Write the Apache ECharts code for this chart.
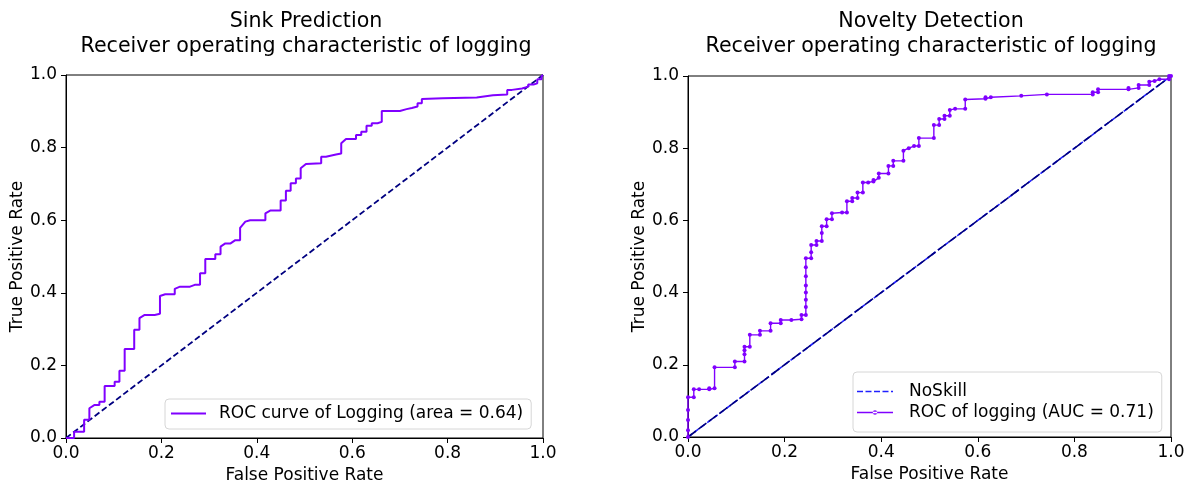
<!DOCTYPE html>
<html>
<head>
<meta charset="utf-8">
<script src="https://cdn.jsdelivr.net/npm/echarts@6/dist/echarts.min.js"></script>
<style>html,body{margin:0;padding:0;background:#fff;}#c{width:1195px;height:482px;}</style>
</head>
<body>
<div id="c"></div>
<script>
// ---- Data ----
const axisTicks = [0.0, 0.2, 0.4, 0.6, 0.8, 1.0];
const diagX = [0, 1];
const diagY = [0, 1];

const leftFpr = [0,0.017,0.017,0.038,0.038,0.049,0.049,0.060,0.070,0.070,0.081,0.081,0.102,0.102,0.112,0.112,0.123,0.123,0.143,0.143,0.154,0.154,0.165,0.186,0.197,0.197,0.208,0.228,0.228,0.239,0.260,0.270,0.281,0.281,0.292,0.292,0.313,0.313,0.324,0.324,0.334,0.345,0.355,0.365,0.365,0.376,0.386,0.418,0.418,0.429,0.450,0.450,0.461,0.461,0.471,0.471,0.482,0.482,0.492,0.492,0.503,0.535,0.535,0.545,0.566,0.577,0.577,0.587,0.608,0.608,0.619,0.619,0.630,0.630,0.641,0.641,0.653,0.653,0.662,0.662,0.700,0.714,0.725,0.725,0.737,0.737,0.746,0.746,0.790,0.861,0.861,0.895,0.925,0.925,0.935,0.935,0.956,0.956,0.969,0.969,0.980,0.980,0.988,0.988,0.997,0.997,1];
const leftTpr = [0,0,0.017,0.017,0.050,0.050,0.082,0.091,0.091,0.100,0.100,0.143,0.143,0.155,0.155,0.185,0.185,0.245,0.245,0.298,0.298,0.330,0.339,0.339,0.342,0.391,0.396,0.396,0.411,0.417,0.417,0.422,0.422,0.454,0.454,0.493,0.493,0.506,0.506,0.527,0.536,0.536,0.545,0.545,0.579,0.596,0.600,0.600,0.619,0.627,0.627,0.654,0.654,0.681,0.681,0.702,0.702,0.715,0.715,0.743,0.755,0.757,0.775,0.775,0.781,0.784,0.812,0.824,0.824,0.835,0.835,0.844,0.844,0.860,0.860,0.867,0.867,0.871,0.871,0.901,0.901,0.906,0.909,0.913,0.913,0.922,0.922,0.934,0.936,0.938,0.940,0.944,0.946,0.959,0.959,0.963,0.963,0.968,0.968,0.974,0.974,0.977,0.977,0.988,0.988,0.997,1];

const rightFpr = [0,0,0,0,0,0.012,0.012,0.023,0.044,0.044,0.055,0.055,0.097,0.097,0.117,0.117,0.117,0.117,0.128,0.128,0.149,0.149,0.171,0.171,0.192,0.192,0.214,0.235,0.235,0.244,0.244,0.244,0.244,0.244,0.244,0.244,0.244,0.255,0.255,0.255,0.266,0.266,0.277,0.277,0.277,0.287,0.287,0.298,0.298,0.319,0.329,0.329,0.340,0.340,0.351,0.351,0.362,0.362,0.373,0.384,0.384,0.395,0.395,0.415,0.415,0.425,0.425,0.446,0.446,0.457,0.468,0.478,0.478,0.509,0.509,0.520,0.520,0.531,0.531,0.542,0.542,0.553,0.574,0.574,0.616,0.616,0.627,0.690,0.743,0.838,0.838,0.849,0.849,0.912,0.912,0.933,0.933,0.955,0.955,0.966,0.976,0.996,0.996,1];
const rightTpr = [0,0.019,0.047,0.075,0.110,0.110,0.132,0.132,0.132,0.135,0.135,0.193,0.193,0.209,0.209,0.229,0.240,0.250,0.250,0.283,0.283,0.294,0.294,0.315,0.315,0.324,0.324,0.326,0.338,0.338,0.360,0.380,0.400,0.420,0.445,0.470,0.495,0.495,0.512,0.532,0.532,0.543,0.543,0.565,0.584,0.584,0.603,0.603,0.620,0.622,0.622,0.653,0.653,0.662,0.662,0.677,0.677,0.705,0.705,0.708,0.712,0.718,0.730,0.730,0.751,0.751,0.765,0.765,0.793,0.800,0.806,0.806,0.828,0.828,0.864,0.864,0.881,0.881,0.890,0.890,0.906,0.909,0.909,0.935,0.937,0.941,0.941,0.945,0.949,0.949,0.955,0.955,0.963,0.963,0.967,0.967,0.975,0.975,0.984,0.986,0.991,0.991,1.0,1];

const titles = ['Sink Prediction\nReceiver operating characteristic of logging', 'Novelty Detection\nReceiver operating characteristic of logging'];
const xName = 'False Positive Rate';
const yName = 'True Positive Rate';
const leftName = 'ROC curve of Logging (area = 0.64)';
const noSkillName = 'NoSkill';
const rightName = 'ROC of logging (AUC = 0.71)';

// ---- Build ----
const zip = (a, b) => a.map((v, i) => [v, b[i]]);
const FONT = 'DejaVu Sans';
const txt = {fontFamily: FONT, fontSize: 17, color: '#000'};

function xAxis(gi) {
  return {
    type: 'value', gridIndex: gi, min: 0, max: 1, interval: 0.2,
    name: xName, nameLocation: 'middle', nameGap: 18, nameTextStyle: txt,
    axisLine: {show: true, lineStyle: {color: '#000', width: 1}},
    axisTick: {show: true, length: 5, lineStyle: {color: '#000', width: 1}},
    axisLabel: Object.assign({margin: 7, formatter: v => v.toFixed(1), hideOverlap: false}, txt),
    splitLine: {show: false}
  };
}
function yAxis(gi, gap) {
  return {
    type: 'value', gridIndex: gi, min: 0, max: 1, interval: 0.2,
    name: yName, nameLocation: 'middle', nameGap: gap, nameRotate: 90, nameTextStyle: txt,
    axisLine: {show: true, lineStyle: {color: '#000', width: 1}},
    axisTick: {show: true, length: 5, lineStyle: {color: '#000', width: 1}},
    axisLabel: Object.assign({margin: 9, formatter: v => v.toFixed(1), hideOverlap: false,
      verticalAlignMinLabel: 'middle', verticalAlignMaxLabel: 'middle'}, txt),
    splitLine: {show: false}
  };
}
const titleStyle = {fontFamily: FONT, fontSize: 20.6, fontWeight: 'normal', color: '#000', lineHeight: 25};

// legend icons (shape only; colour comes from the series)
const pad = 'M0,0h0.01v0.01h-0.01z M0,7.99h0.01v0.01h-0.01z ';
const iconLine = 'path://' + pad + 'M0,3h35v2h-35z';
const iconDash = 'path://' + pad + 'M0,3.2h6v1.6h-6z M8.5,3.2h6v1.6h-6z M17,3.2h6v1.6h-6z M25.5,3.2h6v1.6h-6z M34,3.2h2v1.6h-2z';
const iconDot = 'path://' + pad + 'M0,3.3h36v1.4h-36z M15.8,4a2.2,2.2 0 1,0 4.4,0a2.2,2.2 0 1,0 -4.4,0z';

const option = {
  animation: false,
  backgroundColor: '#fff',
  title: [
    {text: titles[0], left: 301, top: 4, textAlign: 'center', textStyle: titleStyle},
    {text: titles[1], left: 926, top: 4, textAlign: 'center', textStyle: titleStyle}
  ],
  grid: [
    {left: 66, top: 75, width: 477, height: 363, show: true, borderColor: '#000', borderWidth: 1,
     backgroundColor: 'transparent', containLabel: false, outerBoundsMode: 'none'},
    {left: 688, top: 76, width: 483, height: 361, show: true, borderColor: '#000', borderWidth: 1,
     backgroundColor: 'transparent', containLabel: false, outerBoundsMode: 'none'}
  ],
  xAxis: [xAxis(0), xAxis(1)],
  yAxis: [yAxis(0, 38), yAxis(1, 32)],
  legend: [
    {data: [{name: leftName, icon: iconLine}], left: 165, top: 399, itemWidth: 35, itemHeight: 8, padding: [6, 8, 7, 6],
     backgroundColor: '#fff', borderColor: '#d6d6d6', borderWidth: 1, borderRadius: 4,
     itemStyle: {borderWidth: 0}, lineStyle: {width: 0},
     textStyle: {fontFamily: FONT, fontSize: 17, color: '#000', padding: [0, 0, 0, 8]}, selectedMode: false},
    {data: [{name: noSkillName, icon: iconDash}, {name: rightName, icon: iconDot}], orient: 'vertical', left: 853, top: 372,
     itemWidth: 36, itemHeight: 8, itemGap: 4,
     padding: [11, 8, 11, 4], backgroundColor: '#fff', borderColor: '#d6d6d6', borderWidth: 1, borderRadius: 4,
     itemStyle: {borderWidth: 0}, lineStyle: {width: 0},
     textStyle: {fontFamily: FONT, fontSize: 17, color: '#000', padding: [0, 0, 0, 11]}, selectedMode: false}
  ],
  series: [
    {name: 'diagLeft', type: 'line', xAxisIndex: 0, yAxisIndex: 0, data: zip(diagX, diagY), symbol: 'none',
     lineStyle: {color: '#000080', width: 1.8, type: [6, 3]}, z: 2},
    {name: leftName, type: 'line', xAxisIndex: 0, yAxisIndex: 0, data: zip(leftFpr, leftTpr), symbol: 'none',
     lineStyle: {color: '#8000ff', width: 2}, itemStyle: {color: '#8000ff'}, z: 3},
    {name: noSkillName, type: 'line', xAxisIndex: 1, yAxisIndex: 1, data: zip(diagX, diagY), symbol: 'none',
     lineStyle: {color: '#2020ff', width: 1.6, type: [5, 3]}, itemStyle: {color: '#2020ff'}, z: 2},
    {name: 'diagRight', type: 'line', xAxisIndex: 1, yAxisIndex: 1, data: zip(diagX, diagY), symbol: 'none',
     lineStyle: {color: '#000080', width: 1.6, type: [10, 3]}, z: 2},
    {name: rightName, type: 'line', xAxisIndex: 1, yAxisIndex: 1, data: zip(rightFpr, rightTpr),
     symbol: 'circle', symbolSize: 4, showSymbol: true,
     lineStyle: {color: '#8000ff', width: 1.4}, itemStyle: {color: '#8000ff'}, z: 3}
  ]
};
const chart = echarts.init(document.getElementById('c'), null, {renderer: 'canvas'});
chart.setOption(option);
</script>
</body>
</html>
